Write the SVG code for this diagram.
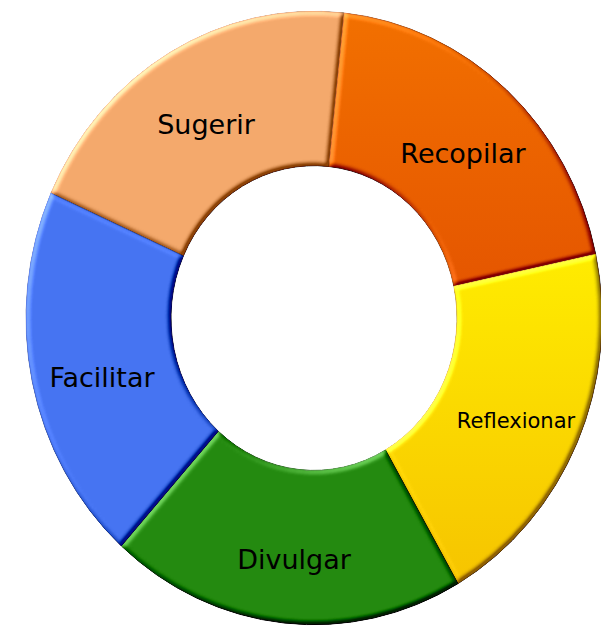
<svg xmlns="http://www.w3.org/2000/svg" width="601" height="630" viewBox="0 0 601 630">
  <defs>
    <style>
      .seg { stroke-width: 1; vector-effect: non-scaling-stroke; }
      .lbl { font-family: "DejaVu Sans", Verdana, sans-serif; fill: #000; text-anchor: middle; }
    </style>
    <linearGradient id="gOrange" x1="0" y1="0" x2="0" y2="1">
      <stop offset="0" stop-color="#F27000"/>
      <stop offset="1" stop-color="#E55600"/>
    </linearGradient>
    <linearGradient id="gYellow" x1="0" y1="0" x2="0" y2="1">
      <stop offset="0" stop-color="#FFEC00"/>
      <stop offset="1" stop-color="#F6C400"/>
    </linearGradient>
    <filter id="bevel" x="-10%" y="-10%" width="120%" height="120%" color-interpolation-filters="sRGB">
      <feGaussianBlur in="SourceAlpha" stdDeviation="2.5" result="blur"/>
      <feDiffuseLighting in="blur" surfaceScale="4" diffuseConstant="1" lighting-color="#ffffff" result="diff">
        <feDistantLight azimuth="225" elevation="35"/>
      </feDiffuseLighting>
      <feComposite in="SourceGraphic" in2="diff" operator="arithmetic" k1="0" k2="1" k3="0.7" k4="-0.4015" result="lit"/>
      <feComposite in="lit" in2="SourceAlpha" operator="in"/>
    </filter>
  </defs>

  <g id="ring" transform="translate(314,318) scale(1,1.065)">
    <g id="sugerir" filter="url(#bevel)">
      <path class="seg" fill="#F4A96C" stroke="#C98450" d="M -263.10,-117.14 A 288 288 0 0 1 30.10,-286.42 L 14.95,-142.22 A 143 143 0 0 0 -130.64,-58.16 Z"/>
    </g>
    <g id="recopilar" filter="url(#bevel)">
      <path class="seg" fill="url(#gOrange)" stroke="#B24600" d="M 30.10,-286.42 A 288 288 0 0 1 281.71,-59.88 L 139.88,-29.73 A 143 143 0 0 0 14.95,-142.22 Z"/>
    </g>
    <g id="reflexionar" filter="url(#bevel)">
      <path class="seg" fill="url(#gYellow)" stroke="#C9A000" d="M 281.71,-59.88 A 288 288 0 0 1 144,249.42 L 71.5,123.84 A 143 143 0 0 0 139.88,-29.73 Z"/>
    </g>
    <g id="divulgar" filter="url(#bevel)">
      <path class="seg" fill="#248A10" stroke="#17650A" d="M 144,249.42 A 288 288 0 0 1 -192.71,214.03 L -95.69,106.27 A 143 143 0 0 0 71.5,123.84 Z"/>
    </g>
    <g id="facilitar" filter="url(#bevel)">
      <path class="seg" fill="#4674F2" stroke="#2E54C0" d="M -192.71,214.03 A 288 288 0 0 1 -263.10,-117.14 L -130.64,-58.16 A 143 143 0 0 0 -95.69,106.27 Z"/>
    </g>
  </g>

  <g id="labels">
    <text class="lbl" x="206" y="134" font-size="27">Sugerir</text>
    <text class="lbl" x="463" y="163" font-size="27">Recopilar</text>
    <text class="lbl" x="516" y="428" font-size="21">Reflexionar</text>
    <text class="lbl" x="102" y="387" font-size="27">Facilitar</text>
    <text class="lbl" x="294" y="569" font-size="27">Divulgar</text>
  </g>
</svg>
